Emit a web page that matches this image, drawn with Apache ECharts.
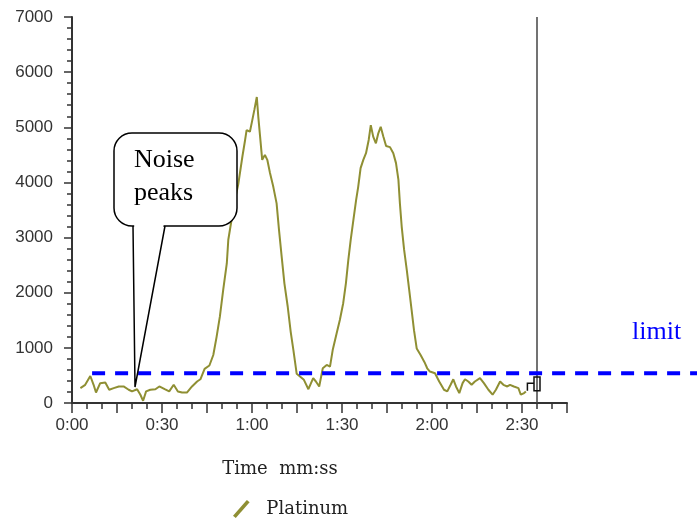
<!DOCTYPE html>
<html>
<head>
<meta charset="utf-8">
<script src="https://cdn.jsdelivr.net/npm/echarts@6/dist/echarts.min.js"></script>
<style>
  html, body { margin: 0; padding: 0; background: #fff; }
  #main { width: 697px; height: 519px; }
</style>
</head>
<body>
<div id="main"></div>
<script>
// time in seconds, signal value
var times = [2.8, 4.4, 6.1, 7.2, 8, 9.4, 11.1, 12.4, 13.9, 15.6, 17.2, 18.9, 20, 21.7, 22.8, 23.7, 24.7, 26.1, 27.8, 29.1,
    30.9, 32.4, 33.9, 35.3, 36.7, 38.3, 40, 41.7, 42.8, 44.2, 45.8, 47.1, 48.2, 49.3, 50.4, 51.6, 52.1, 53, 54.3, 55.4,
    56, 56.8, 57.7, 58.2, 59.3, 60.1, 60.8, 61.6, 62.1, 62.7, 63.4, 64.3, 65.1, 66, 67.1, 68.2, 69, 69.9, 70.8, 71.9,
    72.9, 73.8, 74.9, 76, 77.3, 78.8, 80.4, 81.3, 82.4, 83.6, 84.9, 86, 86.9, 88.2, 89.3, 90.4, 91.3, 92.1, 92.9, 93.8,
    94.7, 95.4, 96.2, 97.1, 98, 98.9, 99.6, 100.4, 101.3, 102.1, 102.9, 103.8, 104.7, 106, 107.1, 108, 108.8, 109.3, 109.9, 110.7,
    111.6, 112.4, 113.2, 114, 114.9, 116.2, 117.5, 118.4, 119.3, 121, 122.4, 124, 125.1, 126.2, 127.1, 128, 129.1, 130.2,
    131, 132.1, 133.2, 134.3, 136, 137.3, 138.8, 140.2, 141.3, 142.7, 143.8, 145.1, 146, 147.3, 148.8, 149.6, 150.7, 151.3];
var platinum = [270, 330, 490, 330, 190, 360, 370, 240, 270, 300, 300, 240, 210, 250, 150, 40, 210, 240, 250, 300,
    250, 210, 330, 210, 190, 190, 300, 390, 430, 620, 680, 870, 1200, 1570, 2050, 2530, 2960, 3260, 3680, 3960,
    3960, 4470, 4770, 4950, 4920, 5130, 5320, 5550, 5190, 4830, 4410, 4500, 4410, 4170, 3920, 3620, 3140, 2650, 2170, 1750,
    1290, 960, 530, 480, 420, 250, 450, 390, 300, 630, 690, 660, 960, 1260, 1510, 1810, 2170, 2590, 2960, 3320,
    3680, 3920, 4260, 4410, 4530, 4770, 5040, 4830, 4710, 4890, 5010, 4830, 4660, 4640, 4530, 4350, 4050, 3620, 3200, 2780,
    2410, 2050, 1690, 1320, 990, 870, 740, 630, 570, 540, 390, 240, 210, 330, 430, 300, 180, 360,
    430, 390, 330, 390, 450, 360, 240, 150, 240, 390, 330, 300, 330, 300, 270, 150, 180, 210];
var yTicks = [0, 1000, 2000, 3000, 4000, 5000, 6000, 7000];
var limitValue = 540;
var limitStart = 6.7;
var cursorTime = 155;

var olive = '#8f8f33';
var seriesData = [];
for (var i = 0; i < times.length; i++) {
    seriesData.push([times[i], platinum[i]]);
}

function mmss(v) {
    var m = Math.floor(v / 60), s = v % 60;
    return m + ':' + (s < 10 ? '0' + s : s);
}

var myChart = echarts.init(document.getElementById('main'));
var option = {
    animation: false,
    grid: { left: 72, right: 130, top: 17, bottom: 116 },
    xAxis: {
        type: 'value',
        min: 0,
        max: 165,
        interval: 15,
        name: 'Time  mm:ss',
        nameLocation: 'middle',
        nameGap: 57,
        nameTextStyle: { fontFamily: 'DejaVu Serif', fontSize: 18, color: '#222', padding: [0, 79, 0, 0] },
        axisLine: { lineStyle: { color: '#333', width: 2 } },
        axisTick: { length: 10, lineStyle: { color: '#333', width: 1.5 } },
        minorTick: { show: true, splitNumber: 3, length: 6, lineStyle: { color: '#333', width: 1.5 } },
        splitLine: { show: false },
        axisLabel: {
            margin: 14,
            fontFamily: 'Liberation Sans',
            fontSize: 17,
            color: '#333',
            formatter: function (v) { return v % 30 === 0 ? mmss(v) : ''; }
        }
    },
    yAxis: {
        type: 'value',
        min: yTicks[0],
        max: yTicks[yTicks.length - 1],
        interval: 1000,
        axisLine: { show: true, lineStyle: { color: '#333', width: 2 } },
        axisTick: { show: true, length: 8, lineStyle: { color: '#333', width: 1.5 } },
        minorTick: { show: true, splitNumber: 5, length: 5, lineStyle: { color: '#333', width: 1.5 } },
        splitLine: { show: false },
        axisLabel: {
            margin: 19, fontFamily: 'Liberation Sans', fontSize: 17, color: '#333',
            formatter: function (v) { return String(v); }
        }
    },
    legend: {
        left: 228,
        top: 495,
        itemWidth: 20,
        itemHeight: 18,
        data: [{ name: 'Platinum', icon: 'path://M0,17 L15,0 L18,2.5 L3,19.5 Z' }],
        textStyle: { fontFamily: 'DejaVu Serif', fontSize: 18, color: '#222', padding: [0, 0, 0, 10] }
    },
    series: [{
        name: 'Platinum',
        type: 'line',
        data: seriesData,
        showSymbol: false,
        itemStyle: { color: olive },
        lineStyle: { color: olive, width: 2 },
        markLine: {
            silent: true,
            symbol: ['none', 'none'],
            label: { show: false },
            lineStyle: { color: '#444', width: 1.5, type: 'solid' },
            data: [{ xAxis: cursorTime }]
        }
    }]
};
myChart.setOption(option);

// annotations placed through the chart's own scales
var yLimit = myChart.convertToPixel({ yAxisIndex: 0 }, limitValue);
var xLimit0 = myChart.convertToPixel({ xAxisIndex: 0 }, limitStart);
var xCursor = myChart.convertToPixel({ xAxisIndex: 0 }, cursorTime);
var stepX = myChart.convertToPixel({ xAxisIndex: 0 }, 151.8);
var stepY0 = myChart.convertToPixel({ yAxisIndex: 0 }, 220);
var stepY1 = myChart.convertToPixel({ yAxisIndex: 0 }, 360);
var boxTop = myChart.convertToPixel({ yAxisIndex: 0 }, 470);
var boxBot = myChart.convertToPixel({ yAxisIndex: 0 }, 220);
var tip = myChart.convertToPixel({ xAxisIndex: 0, yAxisIndex: 0 }, [21, 290]);

myChart.setOption({
    graphic: [
        {
            type: 'line', z: 50,
            shape: { x1: xLimit0, y1: yLimit, x2: 697, y2: yLimit },
            style: { stroke: '#0000ff', lineWidth: 4, lineDash: [13, 10] }
        },
        {
            type: 'polyline', z: 50,
            shape: { points: [[stepX, stepY0], [stepX, stepY1], [xCursor - 3, stepY1]] },
            style: { stroke: '#111', lineWidth: 1.5, fill: null }
        },
        {
            type: 'rect', z: 50,
            shape: { x: xCursor - 3, y: boxTop, width: 6, height: boxBot - boxTop },
            style: { stroke: '#111', lineWidth: 1.5, fill: 'rgba(255,255,255,0)' }
        },
        {
            type: 'text', z: 50,
            left: 632, top: 319,
            style: { text: 'limit', fill: '#0000ff', font: '26px "Liberation Serif"' }
        },
        {
            type: 'rect', z: 60,
            shape: { x: 114, y: 133, width: 123, height: 93, r: 18 },
            style: { fill: '#fff', stroke: '#000', lineWidth: 1.5 }
        },
        {
            type: 'polygon', z: 61,
            shape: { points: [[134.2, 224], [tip[0], tip[1] - 2], [163.8, 224]] },
            style: { fill: '#fff' }
        },
        {
            type: 'polyline', z: 62,
            shape: { points: [[133, 226], [tip[0], tip[1]], [165, 226]] },
            style: { stroke: '#000', lineWidth: 1.5, fill: null }
        },
        {
            type: 'text', z: 63,
            left: 134, top: 144,
            style: { text: 'Noise\npeaks', fill: '#000', font: '26px "Liberation Serif"', lineHeight: 33 }
        }
    ]
});
</script>
</body>
</html>
